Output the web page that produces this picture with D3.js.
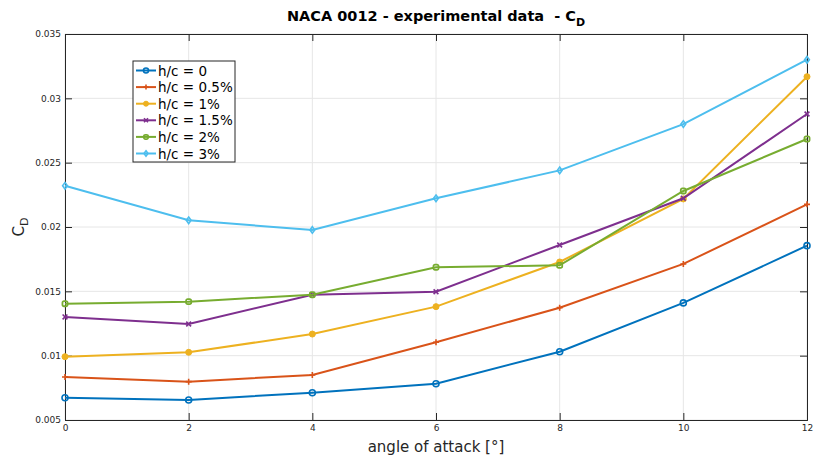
<!DOCTYPE html>
<html>
<head>
<meta charset="utf-8">
<script src="https://cdn.jsdelivr.net/npm/d3@7"></script>
<style>
  body { margin: 0; background: #fff; }
  svg { display: block; font-family: "DejaVu Sans", sans-serif; }
</style>
</head>
<body>
<div id="chart"></div>
<script>
// angle of attack [deg]
var aoa = [0, 2, 4, 6, 8, 10, 12];

// drag coefficient per ground clearance h/c
var cdHc0  = [0.00673, 0.00656, 0.00712, 0.00782, 0.01031, 0.0141, 0.01855];
var cdHc05 = [0.00834, 0.00798, 0.0085, 0.01104, 0.01373, 0.01713, 0.02176];
var cdHc1  = [0.00992, 0.01026, 0.01168, 0.01381, 0.01728, 0.02218, 0.03168];
var cdHc15 = [0.01301, 0.01246, 0.01474, 0.01497, 0.0186, 0.02223, 0.02878];
var cdHc2  = [0.01404, 0.0142, 0.01474, 0.01687, 0.01702, 0.0228, 0.02684];
var cdHc3  = [0.0232, 0.02052, 0.01977, 0.02223, 0.0244, 0.028, 0.033];

var seriesNames = ['h/c = 0', 'h/c = 0.5%', 'h/c = 1%', 'h/c = 1.5%', 'h/c = 2%', 'h/c = 3%'];
var xTicks = [0, 2, 4, 6, 8, 10, 12];
var yTicks = [0.005, 0.01, 0.015, 0.02, 0.025, 0.03, 0.035];

var colors = ['#0072BD', '#D95319', '#EDB120', '#7E2F8E', '#77AC30', '#4DBEEE'];
var markers = ['circle', 'plus', 'dot', 'cross', 'square', 'diamond'];

var series = [cdHc0, cdHc05, cdHc1, cdHc15, cdHc2, cdHc3].map(function(vals, i) {
    return {
        name: seriesNames[i],
        color: colors[i],
        marker: markers[i],
        points: vals.map(function(v, j) { return { x: aoa[j], y: v }; })
    };
});

var width = 813, height = 461;
var margin = { top: 34, right: 6, bottom: 41, left: 65 };
var axisColor = '#262626';

var svg = d3.select('#chart').append('svg')
    .attr('width', width)
    .attr('height', height);

var x = d3.scaleLinear().domain([0, 12]).range([margin.left, width - margin.right]);
var y = d3.scaleLinear().domain([0.005, 0.035]).range([height - margin.bottom, margin.top]);

// grid
var grid = svg.append('g').attr('stroke', '#e6e6e6').attr('stroke-width', 1);
grid.selectAll('.gx').data(xTicks).enter().append('line')
    .attr('x1', function(d) { return x(d); }).attr('x2', function(d) { return x(d); })
    .attr('y1', y(0.005)).attr('y2', y(0.035));
grid.selectAll('.gy').data(yTicks).enter().append('line')
    .attr('y1', function(d) { return y(d); }).attr('y2', function(d) { return y(d); })
    .attr('x1', x(0)).attr('x2', x(12));

// axes (ticks pointing inward, box on)
var xAxis = d3.axisBottom(x).tickValues(xTicks).tickSize(-7).tickPadding(5).tickFormat(d3.format('d'));
var yAxis = d3.axisLeft(y).tickValues(yTicks).tickSize(-7).tickPadding(4).tickFormat(function(d) { return d3.format('')(+d.toFixed(3)); });

var gx = svg.append('g').attr('transform', 'translate(0,' + y(0.005) + ')').call(xAxis);
var gy = svg.append('g').attr('transform', 'translate(' + x(0) + ',0)').call(yAxis);
var gxTop = svg.append('g').attr('transform', 'translate(0,' + y(0.035) + ')')
    .call(d3.axisTop(x).tickValues(xTicks).tickSize(-7).tickFormat(''));
var gyRight = svg.append('g').attr('transform', 'translate(' + x(12) + ',0)')
    .call(d3.axisRight(y).tickValues(yTicks).tickSize(-7).tickFormat(''));

[gx, gy, gxTop, gyRight].forEach(function(g) {
    g.select('.domain').attr('stroke', axisColor).attr('stroke-width', 1);
    g.selectAll('.tick line').attr('stroke', axisColor);
    g.selectAll('.tick text').attr('fill', axisColor).style('font-size', '9px')
        .style('font-family', '"DejaVu Sans", sans-serif');
});

// lines
var line = d3.line()
    .x(function(d) { return x(d.x); })
    .y(function(d) { return y(d.y); });

function drawMarker(g, type, color, size) {
    var s = size;
    if (type === 'circle') {
        g.append('circle').attr('r', s).attr('fill', 'none').attr('stroke', color).attr('stroke-width', 1.6);
    } else if (type === 'dot') {
        g.append('circle').attr('r', s).attr('fill', color).attr('stroke', color).attr('stroke-width', 1);
    } else if (type === 'plus') {
        g.append('path').attr('d', 'M' + (-s) + ',0H' + s + 'M0,' + (-s) + 'V' + s)
            .attr('stroke', color).attr('stroke-width', 1.6);
    } else if (type === 'cross') {
        var c = s * 0.8;
        g.append('path').attr('d', 'M' + (-c) + ',' + (-c) + 'L' + c + ',' + c + 'M' + (-c) + ',' + c + 'L' + c + ',' + (-c))
            .attr('stroke', color).attr('stroke-width', 1.6);
    } else if (type === 'square') {
        var q = s * 0.85;
        g.append('rect').attr('x', -q).attr('y', -q).attr('width', 2 * q).attr('height', 2 * q)
            .attr('rx', 1.5).attr('fill', 'none').attr('stroke', color).attr('stroke-width', 1.8);
    } else if (type === 'diamond') {
        g.append('path').attr('d', 'M0,' + (-s * 1.1) + 'L' + (s * 0.8) + ',0L0,' + (s * 1.1) + 'L' + (-s * 0.8) + ',0Z')
            .attr('fill', 'none').attr('stroke', color).attr('stroke-width', 1.6);
    }
}

var plot = svg.append('g');
series.forEach(function(s) {
    plot.append('path')
        .datum(s.points)
        .attr('d', line)
        .attr('fill', 'none')
        .attr('stroke', s.color)
        .attr('stroke-width', 2);
    s.points.forEach(function(p) {
        var m = plot.append('g').attr('transform', 'translate(' + x(p.x) + ',' + y(p.y) + ')');
        drawMarker(m, s.marker, s.color, 3);
    });
});

// legend
var legend = svg.append('g').attr('transform', 'translate(133,61)');
legend.append('rect')
    .attr('width', 102).attr('height', 101)
    .attr('fill', '#fff').attr('stroke', axisColor).attr('stroke-width', 1);
series.forEach(function(s, i) {
    var ly = 9.5 + i * 16.6;
    legend.append('line')
        .attr('x1', 3).attr('x2', 23).attr('y1', ly).attr('y2', ly)
        .attr('stroke', s.color).attr('stroke-width', 2);
    var m = legend.append('g').attr('transform', 'translate(13,' + ly + ')');
    drawMarker(m, s.marker, s.color, 2.5);
    legend.append('text')
        .attr('x', 25).attr('y', ly + 5)
        .style('font-size', '13.5px')
        .attr('fill', '#000')
        .text(s.name);
});

// title
var title = svg.append('text')
    .attr('x', (x(0) + x(12)) / 2).attr('y', 21)
    .attr('text-anchor', 'middle')
    .style('font-size', '14.5px').style('font-weight', 'bold')
    .style('white-space', 'pre')
    .attr('fill', '#000');
title.append('tspan').text('NACA 0012 - experimental data  - C');
title.append('tspan').attr('dy', 5).style('font-size', '11px').text('D');

// x label
svg.append('text')
    .attr('x', (x(0) + x(12)) / 2).attr('y', 452)
    .attr('text-anchor', 'middle')
    .style('font-size', '15px')
    .attr('fill', axisColor)
    .text('angle of attack [°]');

// y label
var ylab = svg.append('text')
    .attr('transform', 'translate(24,' + ((y(0.005) + y(0.035)) / 2) + ') rotate(-90)')
    .attr('text-anchor', 'middle')
    .style('font-size', '15px')
    .attr('fill', axisColor);
ylab.append('tspan').text('C');
ylab.append('tspan').attr('dy', 4).style('font-size', '11px').text('D');
</script>
</body>
</html>
